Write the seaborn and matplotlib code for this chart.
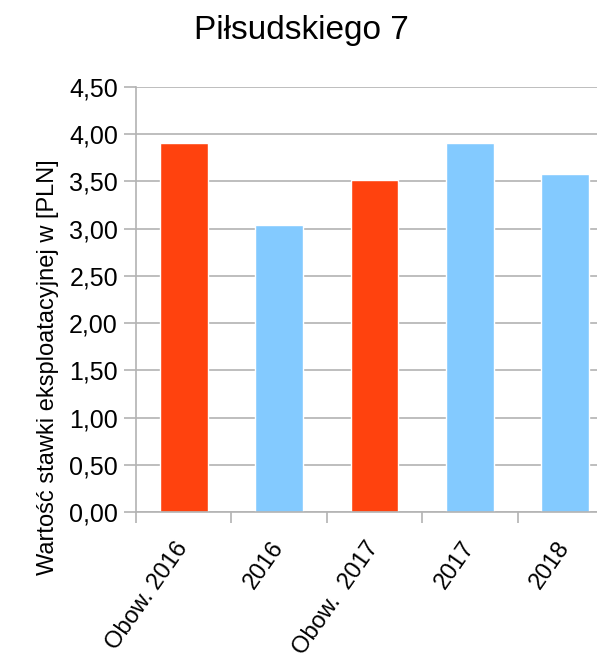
import matplotlib
matplotlib.use('Agg')
import matplotlib.pyplot as plt
import seaborn as sns
import pandas as pd
from matplotlib.ticker import FuncFormatter, FixedLocator

kategorie = ['Obow. 2016', '2016', 'Obow.  2017', '2017', '2018']
wartosci = [3.91, 3.04, 3.52, 3.91, 3.58]
kolory = ['#FF420E', '#83CAFF', '#FF420E', '#83CAFF', '#83CAFF']
y_ticks = [0, 0.5, 1.0, 1.5, 2.0, 2.5, 3.0, 3.5, 4.0, 4.5]

sns.set_style('white')
plt.rcParams['font.family'] = ['Liberation Sans', 'DejaVu Sans']
plt.rcParams['text.color'] = 'black'
plt.rcParams['axes.labelcolor'] = 'black'

df = pd.DataFrame({'kategoria': kategorie, 'wartosc': wartosci})

fig = plt.figure(figsize=(5.97, 6.59), dpi=100)
# os X celowo wychodzi poza prawą krawędź, jak w oryginale
ax = fig.add_axes([136 / 597, 147 / 659, 477 / 597, 425 / 659])

sns.barplot(x='kategoria', y='wartosc', data=df, hue='kategoria',
            palette=kolory, width=0.5, legend=False, saturation=1, ax=ax)

ax.set_xlim(-0.5, len(kategorie) - 0.5)
ax.set_ylim(0, 4.5)
ax.set_yticks(y_ticks)
ax.yaxis.set_major_formatter(FuncFormatter(lambda v, pos: f'{v:.2f}'.replace('.', ',')))
ax.yaxis.grid(True, color='#b3b3b3', linewidth=1.2)
ax.set_axisbelow(True)

ax.set_xticks(range(len(kategorie)))
ax.set_xticklabels(kategorie, rotation=55, ha='right', va='center',
                   rotation_mode='anchor', fontsize=17)
ax.xaxis.set_minor_locator(FixedLocator([i - 0.5 for i in range(len(kategorie) + 1)]))
ax.tick_params(axis='x', which='major', length=0, pad=23, labelcolor='black')
ax.tick_params(axis='x', which='minor', length=8, width=1.2, color='#b3b3b3', direction='out', bottom=True)
ax.tick_params(axis='y', length=9, width=1.2, color='#b3b3b3', direction='out', labelsize=18, pad=4,
               left=True, labelcolor='black')

for s in ['top', 'right']:
    ax.spines[s].set_visible(False)
for s in ['left', 'bottom']:
    ax.spines[s].set_color('#b3b3b3')
    ax.spines[s].set_linewidth(1.2)

ax.set_xlabel('')
ax.set_ylabel('Wartość stawki eksploatacyjnej w [PLN]', fontsize=17, va='center')
ax.yaxis.set_label_coords(-0.1845, 0.341)
fig.text(0.504, 1 - 39 / 659, 'Piłsudskiego 7', ha='center', va='baseline', fontsize=24)

fig.savefig('out.png', dpi=100)
